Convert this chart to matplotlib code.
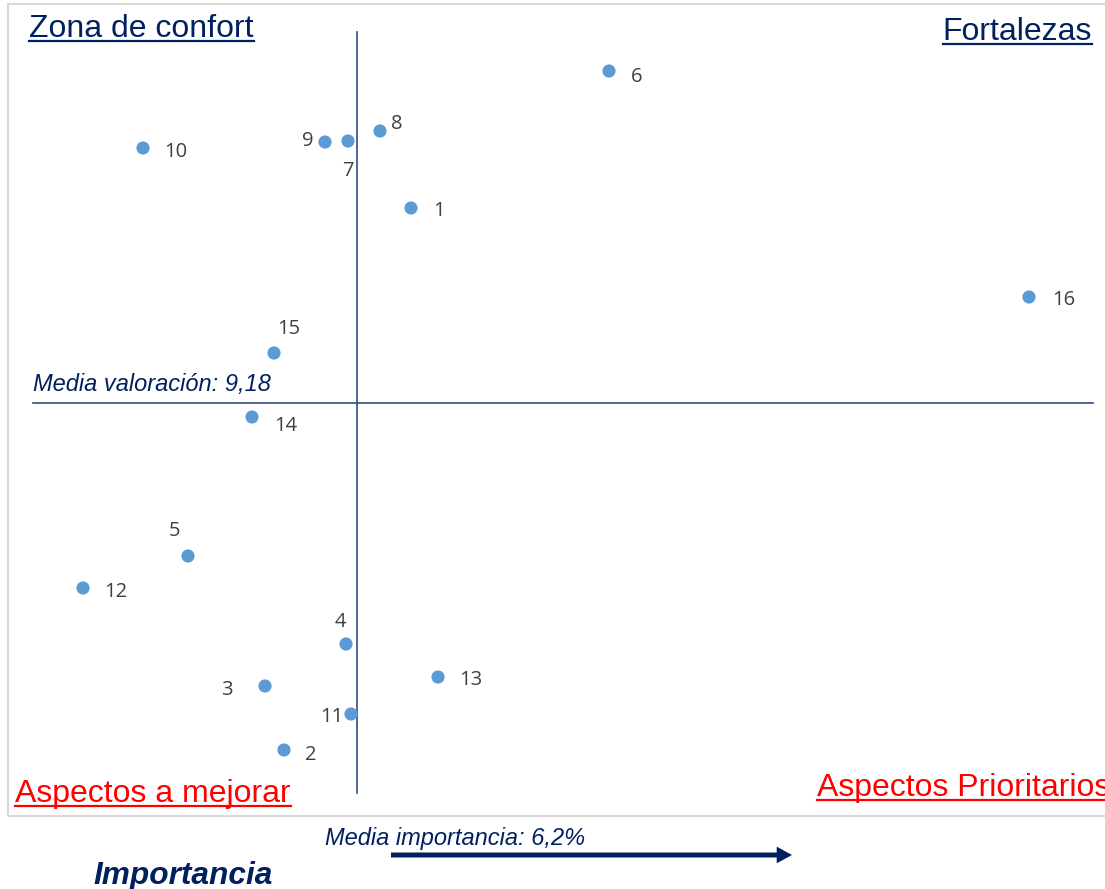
import matplotlib.pyplot as plt
from matplotlib.lines import Line2D
from matplotlib.patches import Rectangle, FancyArrowPatch

# importancia (%) y valoración media de cada aspecto
ids = ["1", "2", "3", "4", "5", "6", "7", "8", "9", "10",
       "11", "12", "13", "14", "15", "16"]
importancia = [6.74, 5.47, 5.28, 6.09, 4.51, 8.72, 6.11, 6.43, 5.88, 4.06,
               6.14, 3.46, 7.01, 5.15, 5.37, 12.92]
valoracion = [9.375, 8.833, 8.897, 8.939, 9.027, 9.512, 9.442, 9.452, 9.441,
              9.435, 8.869, 8.995, 8.906, 9.166, 9.230, 9.286]
media_importancia = 6.2
media_valoracion = 9.18

# desplazamiento de cada etiqueta (px) y alineación
label_pos = {
    "1": (22, -3, "left"), "2": (21, -5, "left"), "3": (-32, -4, "right"),
    "4": (-6, 22, "center"), "5": (-13, 25, "center"), "6": (22, -6, "left"),
    "7": (0, -30, "center"), "8": (11, 7, "left"), "9": (-12, 1, "right"),
    "10": (21, -4, "left"), "11": (-8, -3, "right"), "12": (21, -4, "left"),
    "13": (21, -3, "left"), "14": (22, -9, "left"), "15": (15, 24, "center"),
    "16": (23, -3, "left"),
}

W, H = 1105, 889
NAVY = "#002060"
RED = "#ff0000"

fig = plt.figure(figsize=(W / 100, H / 100), dpi=100)
ax = fig.add_axes([0, 0, 1, 1])
ax.set_xlim(media_importancia - 3.57, media_importancia + 7.48)
ax.set_ylim(media_valoracion - 0.486, media_valoracion + 0.403)
ax.axis("off")


def fx(px):
    return px / W


def fy(py):
    return 1 - py / H


# marco del gráfico
fig.patches.append(Rectangle((fx(8), fy(816)), fx(1110) - fx(8), fy(4) - fy(816),
                             transform=fig.transFigure, fill=False,
                             edgecolor="#d9d9d9", lw=1.5))

# líneas de las medias
ax.axvline(media_importancia, ymin=fy(793), ymax=fy(32), color="#2f4f7f", lw=1.2)
ax.axhline(media_valoracion, xmin=fx(33), xmax=fx(1093), color="#2f4f7f", lw=1.2)

ax.scatter(importancia, valoracion, s=90, color="#5b9bd5", zorder=3,
           edgecolors="none")
for lab, x, y in zip(ids, importancia, valoracion):
    dx, dy, ha = label_pos[lab]
    ax.annotate(lab, (x, y), xytext=(dx, dy), textcoords="offset pixels",
                ha=ha, va="center", fontsize=14.5, color="#404040",
                family="Open Sans")

# títulos de los cuadrantes (subrayados)
quad = [
    ("Zona de confort", 29, 37, "left", NAVY),
    ("Fortalezas", 1092, 40, "right", NAVY),
    ("Aspectos a mejorar", 15, 802, "left", RED),
    ("Aspectos Prioritarios", 817, 796, "left", RED),
]
titles = []
for txt, x, y, ha, col in quad:
    t = fig.text(fx(x), fy(y), txt, ha=ha, va="baseline", fontsize=23,
                 color=col, family="Liberation Sans")
    titles.append((t, y, col))

fig.text(fx(33), fy(391), "Media valoración: 9,18", ha="left", va="baseline",
         fontsize=17, style="italic", color=NAVY, family="Liberation Sans")
fig.text(fx(325), fy(845), "Media importancia: 6,2%", ha="left", va="baseline",
         fontsize=17, style="italic", color=NAVY, family="Liberation Sans")
fig.text(fx(93), fy(884), "Importancia", ha="left", va="baseline",
         fontsize=22.8, style="italic", weight="bold", color=NAVY,
         family="Liberation Sans")

fig.patches.append(FancyArrowPatch(
    (fx(391), fy(855)), (fx(792), fy(855)), transform=fig.transFigure,
    arrowstyle="simple,head_length=11,head_width=12,tail_width=3.6",
    mutation_scale=1, lw=0, color=NAVY, shrinkA=0, shrinkB=0))

# subrayado de los títulos
fig.canvas.draw()
r = fig.canvas.get_renderer()
for t, y, col in titles:
    bb = t.get_window_extent(r)
    fig.lines.append(Line2D([bb.x0 / W, bb.x1 / W], [fy(y + 4), fy(y + 4)],
                            transform=fig.transFigure, color=col, lw=1.6))

fig.savefig("out.png", dpi=100)
